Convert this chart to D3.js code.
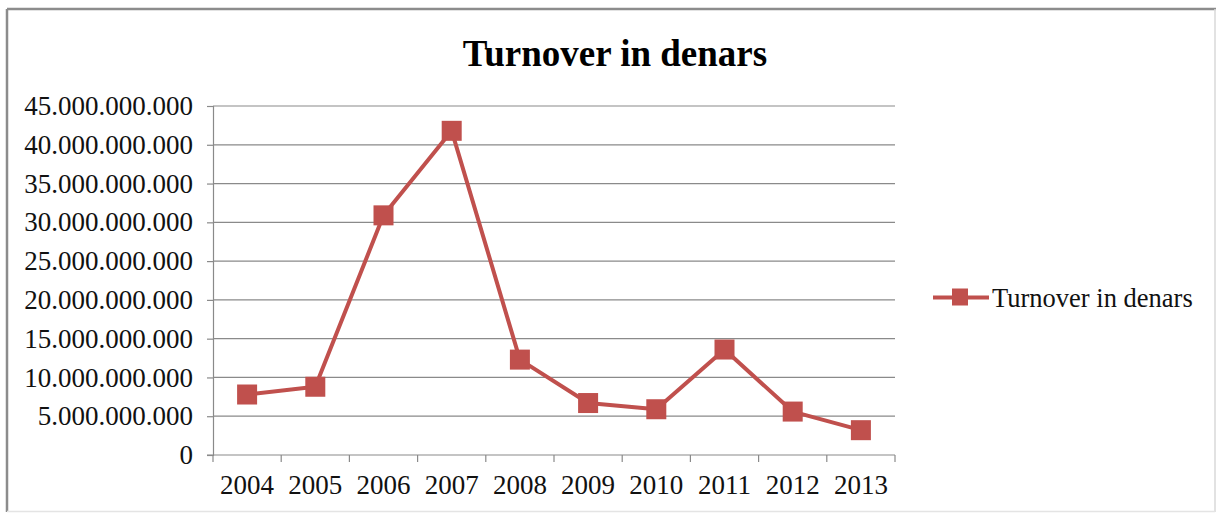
<!DOCTYPE html>
<html>
<head>
<meta charset="utf-8">
<script src="https://cdn.jsdelivr.net/npm/d3@7"></script>
<style>
  html, body { margin: 0; padding: 0; background: #fff; }
  svg { display: block; }
</style>
</head>
<body>
<svg id="chart" width="1219" height="515"></svg>
<script>
const categories = ["2004", "2005", "2006", "2007", "2008", "2009", "2010", "2011", "2012", "2013"];
const seriesName = "Turnover in denars";
const values = [7.8e9, 8.8e9, 30.9e9, 41.8e9, 12.3e9, 6.7e9, 5.9e9, 13.6e9, 5.6e9, 3.2e9];
const yTicks = [0, 5e9, 10e9, 15e9, 20e9, 25e9, 30e9, 35e9, 40e9, 45e9];
const chartTitle = "Turnover in denars";

const FONT = "'Liberation Serif', 'Times New Roman', serif";
const svg = d3.select("#chart");
const plot = { left: 213, right: 895, top: 106, bottom: 455 };
const red = "#C0504D";
const grid = "#8a8a8a";

const locale = d3.formatLocale({ decimal: ",", thousands: ".", grouping: [3], currency: ["", ""] });
const fmt = locale.format(",.0f");

// outer border
svg.append("line").attr("x1", 7).attr("x2", 1216).attr("y1", 9).attr("y2", 9)
  .attr("stroke", "#8c8c8c").attr("stroke-width", 2.5);
svg.append("line").attr("x1", 7).attr("x2", 7).attr("y1", 9).attr("y2", 512)
  .attr("stroke", "#8c8c8c").attr("stroke-width", 2.5);
svg.append("line").attr("x1", 1215).attr("x2", 1215).attr("y1", 9).attr("y2", 512)
  .attr("stroke", "#d8d8d8").attr("stroke-width", 1.5);
svg.append("line").attr("x1", 7).attr("x2", 1215).attr("y1", 511.5).attr("y2", 511.5)
  .attr("stroke", "#e4e4e4").attr("stroke-width", 1.5);

const x = d3.scaleBand().domain(categories).range([plot.left, plot.right]);
const y = d3.scaleLinear().domain([0, 45e9]).range([plot.bottom, plot.top]);

// gridlines
svg.append("g").selectAll("line").data(yTicks.filter(d => d > 0)).join("line")
  .attr("x1", plot.left).attr("x2", plot.right)
  .attr("y1", d => y(d)).attr("y2", d => y(d))
  .attr("stroke", grid).attr("stroke-width", 1.2);

// y axis
const yAxis = d3.axisLeft(y).tickValues(yTicks).tickFormat(fmt).tickSize(6).tickPadding(14);
const gy = svg.append("g").attr("transform", `translate(${plot.left},0)`).call(yAxis)
  .attr("font-family", FONT);
gy.select(".domain").attr("stroke", grid).attr("stroke-width", 1.2);
gy.selectAll(".tick line").attr("stroke", grid).attr("stroke-width", 1.2);
gy.selectAll("text").style("font-family", FONT).style("font-size", "27px").attr("fill", "#111");

// x axis
const xAxis = d3.axisBottom(x).tickSize(0).tickPadding(20);
const gx = svg.append("g").attr("transform", `translate(0,${plot.bottom})`).call(xAxis)
  .attr("font-family", FONT);
gx.select(".domain").remove();
svg.append("line").attr("x1", plot.left - 6).attr("x2", plot.right)
  .attr("y1", plot.bottom).attr("y2", plot.bottom).attr("stroke", grid).attr("stroke-width", 1.2);
const boundaries = categories.map(c => x(c)).concat([plot.right]);
svg.append("g").selectAll("line").data(boundaries).join("line")
  .attr("x1", d => d).attr("x2", d => d)
  .attr("y1", plot.bottom).attr("y2", plot.bottom + 7)
  .attr("stroke", grid).attr("stroke-width", 1.2);
gx.selectAll("text").style("font-family", FONT).style("font-size", "27px").attr("fill", "#111").attr("dy", "0.71em");

// line
const cx = d => x(d) + x.bandwidth() / 2;
const data = categories.map((c, i) => ({ c, v: values[i] }));
svg.append("path").datum(data)
  .attr("d", d3.line().x(d => cx(d.c)).y(d => y(d.v)))
  .attr("fill", "none").attr("stroke", red).attr("stroke-width", 4)
  .attr("stroke-linejoin", "round");

const ms = 20;
svg.append("g").selectAll("rect").data(data).join("rect")
  .attr("x", d => cx(d.c) - ms / 2).attr("y", d => y(d.v) - ms / 2)
  .attr("width", ms).attr("height", ms).attr("fill", red);

// title
svg.append("text").attr("x", 615).attr("y", 66).attr("text-anchor", "middle")
  .style("font-family", FONT).style("font-size", "37px").style("font-weight", "bold").text(chartTitle);

// legend
const ly = 297.5;
svg.append("line").attr("x1", 933).attr("x2", 989).attr("y1", ly).attr("y2", ly)
  .attr("stroke", red).attr("stroke-width", 4);
svg.append("rect").attr("x", 960 - 8).attr("y", ly - 9).attr("width", 16).attr("height", 17).attr("fill", red);
svg.append("text").attr("x", 992).attr("y", 306.5)
  .style("font-family", FONT).style("font-size", "26.5px").attr("fill", "#111").text(seriesName);
</script>
</body>
</html>
